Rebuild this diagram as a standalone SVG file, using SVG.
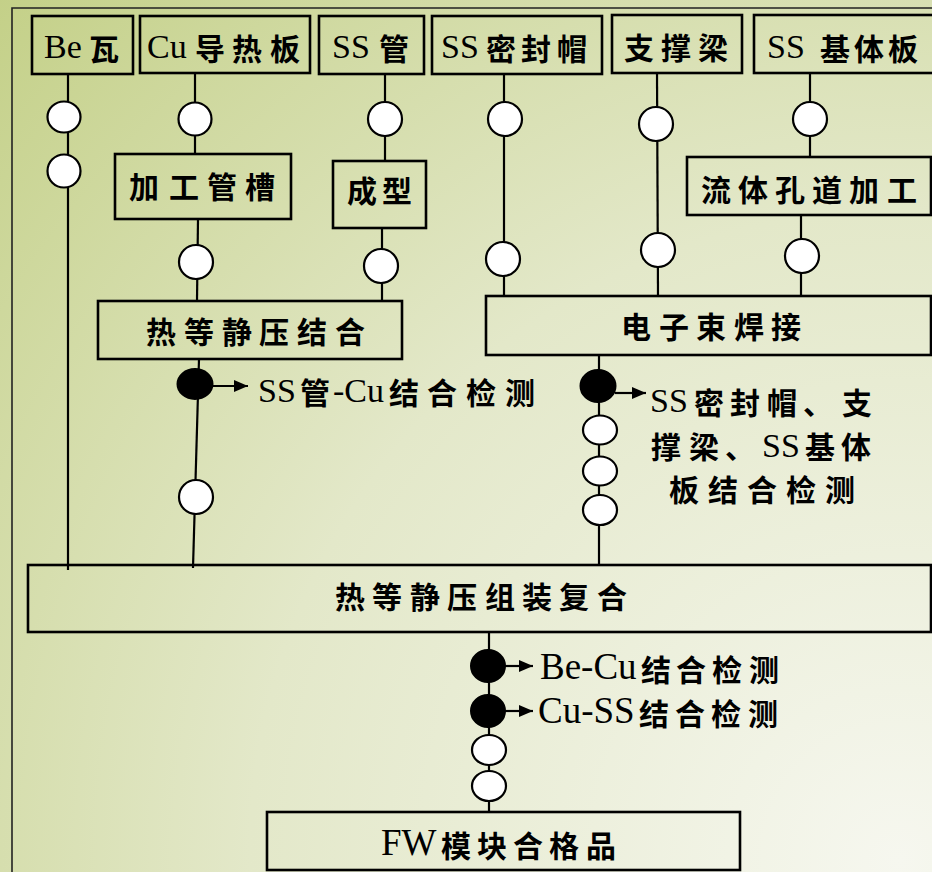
<svg xmlns="http://www.w3.org/2000/svg" width="932" height="872" viewBox="0 0 932 872">
<defs>
<radialGradient id="bg" gradientUnits="userSpaceOnUse" cx="900" cy="860" r="1300">
<stop offset="0" stop-color="#f6f7ef"/>
<stop offset="0.5" stop-color="#e3e8c9"/>
<stop offset="1" stop-color="#c1ce82"/>
</radialGradient>
<marker id="ah" viewBox="0 0 14 12" refX="14" refY="6" markerWidth="14" markerHeight="12" markerUnits="userSpaceOnUse" orient="auto">
<path d="M0,0 L14,6 L0,12 z" fill="#000"/>
</marker>
<style>
.box{fill:none;stroke:#000;stroke-width:2.6}
.ln{stroke:#000;stroke-width:2.2;fill:none}
.oc{fill:#fff;stroke:#000;stroke-width:2.2}
.fc{fill:#000;stroke:#000;stroke-width:2}
.ar{stroke:#000;stroke-width:2.2;fill:none;marker-end:url(#ah)}
.lat{font-family:"Liberation Serif","Times New Roman",serif;font-size:34px;fill:#000}
.lat2{font-family:"Liberation Serif","Times New Roman",serif;font-size:37px;fill:#000}
.cjk{font-family:"Noto Sans CJK SC","Noto Sans CJK JP",sans-serif;font-size:30px;font-weight:700;fill:#000}
</style>
</defs>
<rect x="0" y="0" width="932" height="872" fill="url(#bg)"/>
<path d="M12,872 L12,8 L932,8" fill="none" stroke="#222" stroke-width="1.6"/>

<g id="connectors">
<path class="ln" d="M68,74 L68,570"/>
<ellipse class="oc" cx="64" cy="117" rx="16.5" ry="15.5"/>
<ellipse class="oc" cx="64" cy="171" rx="16.5" ry="16.5"/>
<path class="ln" d="M195,73 L195,154"/>
<circle class="oc" cx="195" cy="119" r="16.5"/>
<path class="ln" d="M198,219 L197,301"/>
<circle class="oc" cx="196" cy="262" r="17"/>
<path class="ln" d="M385,75 L385,161"/>
<circle class="oc" cx="385" cy="119" r="17"/>
<path class="ln" d="M382,228 L382,301"/>
<circle class="oc" cx="381" cy="266" r="17"/>
<path class="ln" d="M504,74 L504,296"/>
<circle class="oc" cx="505" cy="119" r="17"/>
<circle class="oc" cx="503" cy="259" r="17"/>
<path class="ln" d="M657,73 L658,296"/>
<circle class="oc" cx="656" cy="124" r="17"/>
<circle class="oc" cx="658" cy="250" r="17"/>
<path class="ln" d="M810,73 L810,157"/>
<circle class="oc" cx="810" cy="119" r="17"/>
<path class="ln" d="M801,215 L801,296"/>
<circle class="oc" cx="802" cy="256" r="17"/>
<path class="ln" d="M199,359 L193,568"/>
<ellipse class="fc" cx="195" cy="384" rx="17.5" ry="15"/>
<path class="ar" d="M212,386 L248,386"/>
<circle class="oc" cx="196" cy="497" r="17"/>
<path class="ln" d="M599,355 L599,565"/>
<ellipse class="fc" cx="598" cy="386" rx="17.5" ry="16"/>
<path class="ar" d="M615,393 L646,393"/>
<ellipse class="oc" cx="600" cy="430" rx="17" ry="14.5"/>
<ellipse class="oc" cx="600" cy="471" rx="17" ry="14.5"/>
<ellipse class="oc" cx="600" cy="510" rx="17" ry="15"/>
<path class="ln" d="M489,632 L489,812"/>
<ellipse class="fc" cx="488" cy="666" rx="17" ry="16"/>
<path class="ar" d="M504,666 L533,666"/>
<ellipse class="fc" cx="488" cy="711" rx="17" ry="16"/>
<path class="ar" d="M504,711 L533,711"/>
<ellipse class="oc" cx="489" cy="750" rx="17" ry="15"/>
<ellipse class="oc" cx="489" cy="786" rx="17" ry="15"/>
</g>

<g id="n-be"><rect class="box" x="32" y="16" width="101" height="58"/>
<text y="58"><tspan class="lat" x="44">Be</tspan><tspan class="cjk" x="89" y="60">瓦</tspan></text></g>
<g id="n-cu"><rect class="box" x="140" y="16" width="170" height="57"/>
<text y="58"><tspan class="lat" x="147">Cu</tspan><tspan class="cjk" x="195 232 270" y="60">导热板</tspan></text></g>
<g id="n-ssg"><rect class="box" x="319" y="16" width="105" height="58"/>
<text y="58"><tspan class="lat" x="332">SS</tspan><tspan class="cjk" x="379" y="60">管</tspan></text></g>
<g id="n-ssm"><rect class="box" x="432" y="16" width="170" height="58"/>
<text y="58"><tspan class="lat" x="441">SS</tspan><tspan class="cjk" x="486 521 557" y="60">密封帽</tspan></text></g>
<g id="n-zcl"><rect class="box" x="612" y="15" width="130" height="58"/>
<text class="cjk" x="624 661 698" y="59">支撑梁</text></g>
<g id="n-ssj"><rect class="box" x="754" y="15" width="190" height="58"/>
<text y="58"><tspan class="lat" x="767">SS</tspan><tspan class="cjk" x="820 854 888" y="60">基体板</tspan></text></g>
<g id="n-jg"><rect class="box" x="115" y="154" width="176" height="65"/>
<text class="cjk" x="129 169 207 245" y="198">加工管槽</text></g>
<g id="n-cx"><rect class="box" x="333" y="161" width="93" height="67"/>
<text class="cjk" x="347 382" y="202">成型</text></g>
<g id="n-lt"><rect class="box" x="687" y="157" width="244" height="58"/>
<text class="cjk" x="701 738 775 812 849 887" y="201">流体孔道加工</text></g>
<g id="n-rdj"><rect class="box" x="98" y="301" width="304" height="58"/>
<text class="cjk" x="146 184 222 259 297 335" y="343">热等静压结合</text></g>
<g id="n-dzs"><rect class="box" x="486" y="296" width="445" height="59"/>
<text class="cjk" x="621 659 696 734 771" y="338">电子束焊接</text></g>
<g id="n-zz"><rect class="box" x="28" y="565" width="903" height="67"/>
<text class="cjk" x="335 372 410 447 485 522 559 597" y="608">热等静压组装复合</text></g>
<g id="n-fw"><rect class="box" x="267" y="812" width="473" height="58"/>
<text y="855"><tspan class="lat2" x="381">FW</tspan><tspan class="cjk" x="441 477 513 549 586" y="857">模块合格品</tspan></text></g>

<g id="labels">
<text y="402"><tspan class="lat" x="258">SS</tspan><tspan class="cjk" x="300" y="404">管</tspan><tspan class="lat" x="333" y="402">-Cu</tspan><tspan class="cjk" x="389 427 466 505" y="404">结合检测</tspan></text>
<text y="412"><tspan class="lat" x="650">SS</tspan><tspan class="cjk" x="694 730 767 803 842" y="414">密封帽、支</tspan></text>
<text y="458"><tspan class="cjk" x="651 689 725">撑梁、</tspan><tspan class="lat" x="762" y="457">SS</tspan><tspan class="cjk" x="805 841" y="458">基体</tspan></text>
<text class="cjk" x="669 708 747 786 825" y="501">板结合检测</text>
<text y="679"><tspan class="lat2" x="540">Be-Cu</tspan><tspan class="cjk" x="641 676 712 749" y="681">结合检测</tspan></text>
<text y="723"><tspan class="lat2" x="538">Cu-SS</tspan><tspan class="cjk" x="639 675 711 748" y="725">结合检测</tspan></text>
</g>
</svg>
